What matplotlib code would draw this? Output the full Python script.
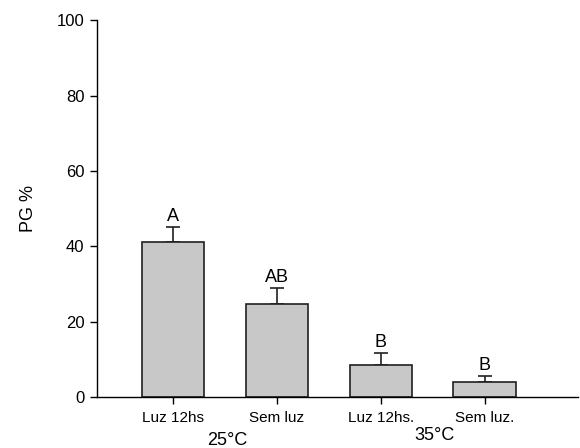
import numpy as np
import matplotlib.pyplot as plt

labels = ['Luz 12hs', 'Sem luz', 'Luz 12hs.', 'Sem luz.']
pg = [41.1, 24.6, 8.5, 4.0]
err = [4.0, 4.3, 3.2, 1.6]
letters = ['A', 'AB', 'B', 'B']
groups = ['25°C', '35°C']

plt.rcParams['font.family'] = ['Liberation Sans', 'DejaVu Sans']

fig = plt.figure(figsize=(5.8, 4.48), dpi=100)
ax = fig.add_axes([0.167, 0.114, 0.83, 0.841])

x = np.arange(1, len(pg) + 1)
ax.bar(x, pg, width=0.6, color='#c8c8c8', edgecolor='#202020', linewidth=1.2, zorder=2)
ax.errorbar(x, pg, yerr=[np.zeros(len(err)), err], fmt='none', ecolor='#202020',
            elinewidth=1.2, capsize=5, capthick=1.2, zorder=1)

for xi, v, e, t in zip(x, pg, err, letters):
    ax.text(xi, v + e + 0.5, t, ha='center', va='bottom', fontsize=13)

ax.set_xlim(0.27, 4.9)
ax.set_ylim(0, 100)
ax.set_yticks(range(0, 101, 20))
ax.set_xticks(x)
ax.set_xticklabels(labels, fontsize=11)
ax.tick_params(axis='y', labelsize=12, direction='out', length=5, width=1, pad=4)
ax.tick_params(axis='x', direction='out', length=5, width=1, pad=5)
ax.set_ylabel('PG %', fontsize=13, labelpad=14)

for s in ['top', 'right']:
    ax.spines[s].set_visible(False)
for s in ['left', 'bottom']:
    ax.spines[s].set_linewidth(1.0)

ax.text(1.52, -0.115, groups[0], transform=ax.get_xaxis_transform(), ha='center', va='center', fontsize=13)
ax.text(3.52, -0.102, groups[1], transform=ax.get_xaxis_transform(), ha='center', va='center', fontsize=13)

fig.savefig('out.png', dpi=100)
